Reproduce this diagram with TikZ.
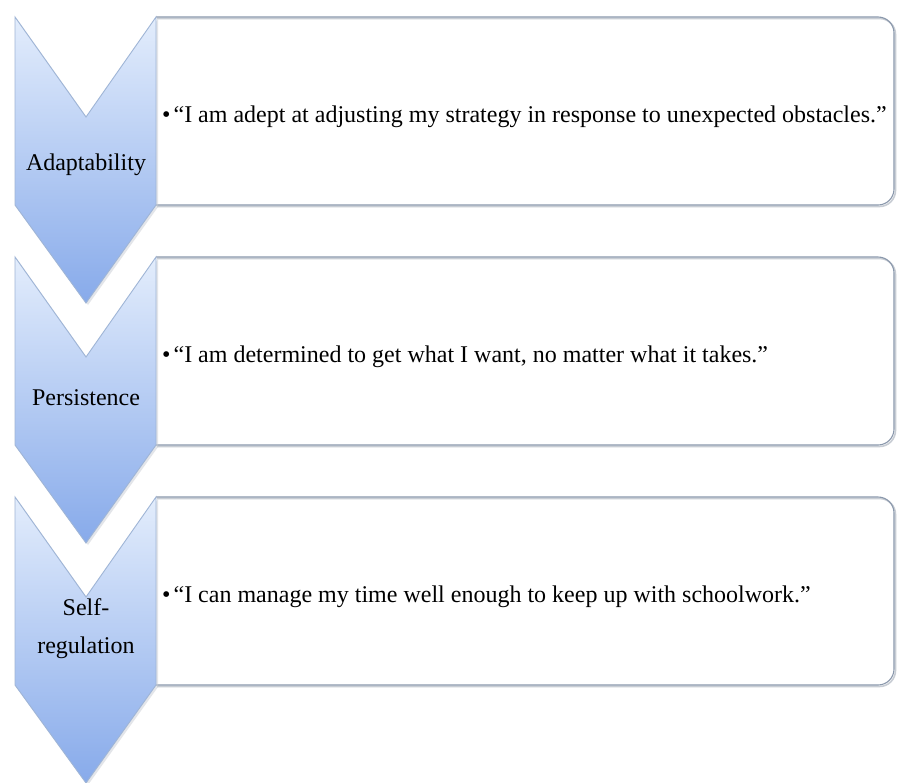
\documentclass[tikz,border=0pt]{standalone}
\usepackage{fontspec}
\setmainfont{Liberation Serif}
\definecolor{chtop}{HTML}{E3EDFC}
\definecolor{chbot}{HTML}{87AAEA}
\definecolor{chline}{HTML}{9FB5D6}
\definecolor{boxline}{HTML}{8A98AC}
\definecolor{shd}{HTML}{C8CDD4}
\begin{document}
\begin{tikzpicture}[x=1pt,y=-1pt,
  boxstyle/.style={draw=boxline, line width=1.1pt, rounded corners=16pt},
  boxshadow/.style={draw=shd, line width=1.6pt, rounded corners=16pt},
  chev/.style={top color=chtop, bottom color=chbot, draw=chline, line width=0.9pt, line join=miter},
  chevshadow/.style={fill=shd, opacity=0.5},
  quote/.style={anchor=base west, inner sep=0pt, font=\fontsize{24}{28}\selectfont},
  label/.style={anchor=base, inner sep=0pt, font=\fontsize{24}{28}\selectfont}]
\useasboundingbox (0,0) rectangle (897,782);
\fill[white] (0,0) rectangle (897,782);
\foreach \dy in {0,240,480}{
  \draw[boxshadow] (157,18.5+\dy) -- (895.5,18.5+\dy) -- (895.5,206.5+\dy) -- (157,206.5+\dy);
  \draw[boxstyle] (156,17+\dy) -- (894,17+\dy) -- (894,205+\dy) -- (156,205+\dy);
}
\foreach \dy in {0,240,480}{
  \path[chevshadow] (17,19+\dy) -- (88,119+\dy) -- (158,19+\dy) -- (158,207+\dy) -- (88,305+\dy) -- (17,207+\dy) -- cycle;
  \path[chev] (15,17+\dy) -- (86,117+\dy) -- (156,17+\dy) -- (156,205+\dy) -- (86,303+\dy) -- (15,205+\dy) -- cycle;
}
\node[label] (lab1) at (86,170) {Adaptability};
\node[label] (lab2) at (86,405) {Persistence};
\node[label] (lab3a) at (86,615) {Self-};
\node[label] (lab3b) at (86,653) {regulation};
\node[quote] (txt1) at (162,122) {\textbullet\hspace{3pt}“I am adept at adjusting my strategy in response to unexpected obstacles.”};
\node[quote] (txt2) at (162,362) {\textbullet\hspace{3pt}“I am determined to get what I want, no matter what it takes.”};
\node[quote] (txt3) at (162,602) {\textbullet\hspace{3pt}“I can manage my time well enough to keep up with schoolwork.”};
\end{tikzpicture}
\end{document}
